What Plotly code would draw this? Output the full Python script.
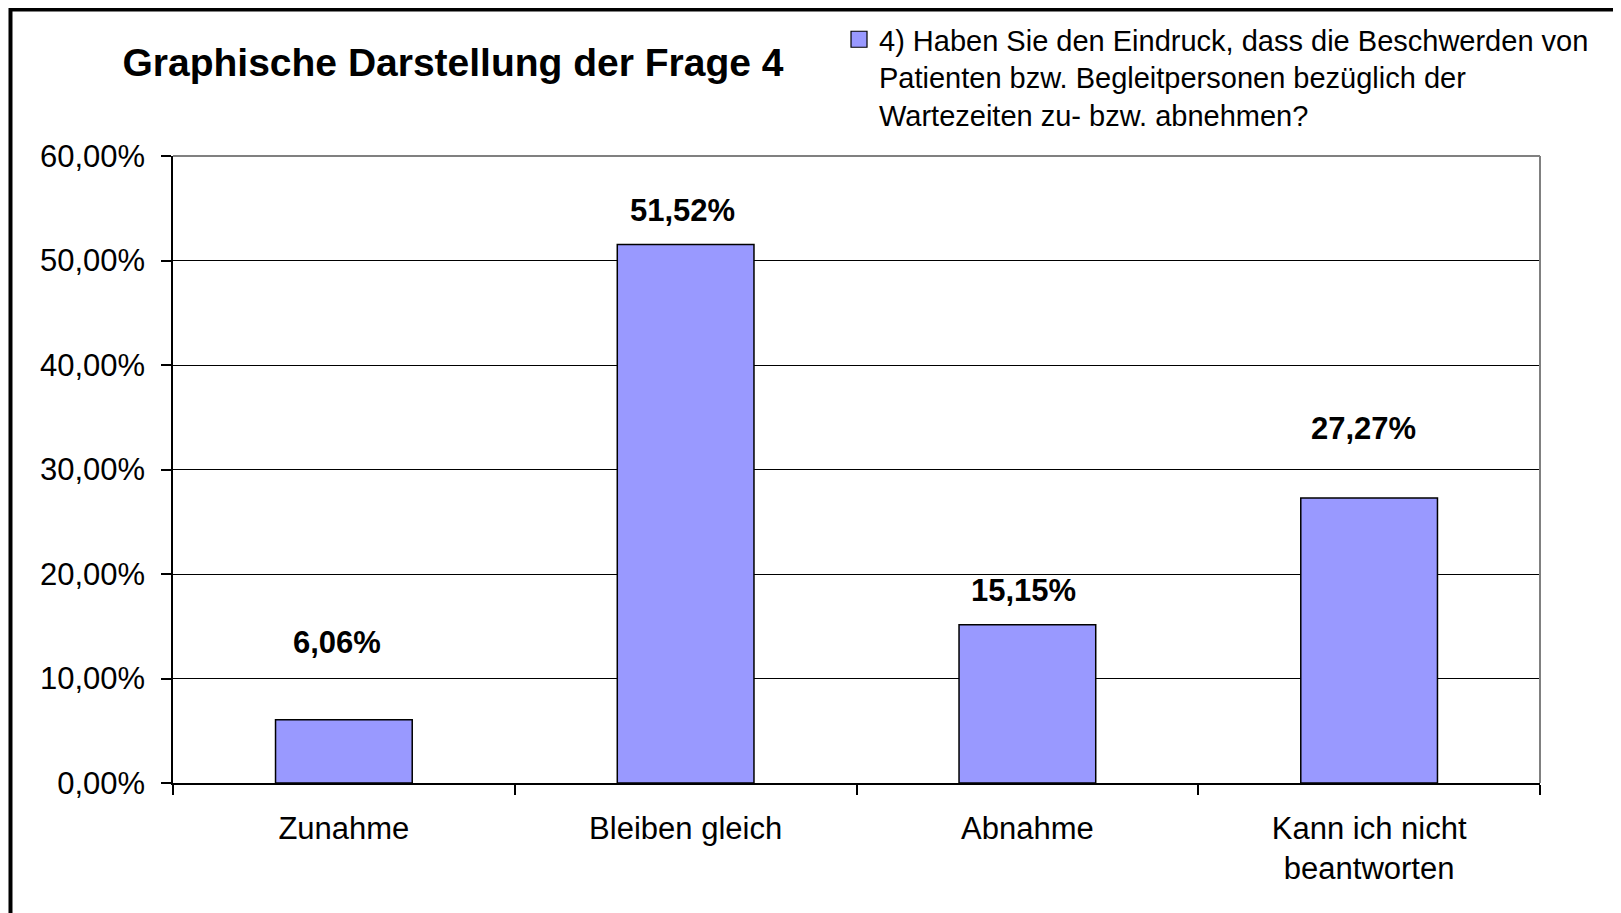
import plotly.graph_objects as go

categories = ["Zunahme", "Bleiben gleich", "Abnahme", "Kann ich nicht<br>beantworten"]
values = [0.0606, 0.5152, 0.1515, 0.2727]
value_labels = ["6,06%", "51,52%", "15,15%", "27,27%"]
series_name = ("4) Haben Sie den Eindruck, dass die Beschwerden von<br>"
               "Patienten bzw. Begleitpersonen bezüglich der<br>"
               "Wartezeiten zu- bzw. abnehmen?")
title_text = "Graphische Darstellung der Frage 4"

# label placement styling (pixel offsets above bar tops)
label_yshift = [77, 34, 34, 70]
label_xshift = [-7, -3, -4, -6]

FONT = "Arial, 'Liberation Sans', sans-serif"
BAR_COLOR = "#9999FF"
OFF = 8  # page body margin
W, H = 1621 - OFF, 913 - OFF
L, R, T, B = 172.6, 1540.4, 156.0, 782.6  # page coordinates of plot area

fig = go.Figure()
fig.add_trace(go.Bar(
    x=categories, y=values, name=series_name,
    marker=dict(color=BAR_COLOR, line=dict(color="black", width=1.5)),
    width=0.4, showlegend=False, legendgroup="s",
))
# legend entry (larger square symbol, like the original legend key)
fig.add_trace(go.Scatter(
    x=[None], y=[None], mode="markers", name=series_name, legendgroup="s",
    marker=dict(symbol="square", size=16, color=BAR_COLOR,
                line=dict(color="black", width=1.2)),
    showlegend=True, hoverinfo="skip",
))

for c, v, t, dy, dx in zip(categories, values, value_labels, label_yshift, label_xshift):
    fig.add_annotation(x=c, y=v, text=t, showarrow=False, yanchor="middle",
                       yshift=dy, xshift=dx,
                       font=dict(family=FONT, size=31, color="black", weight="bold"))

pw, ph = R - L, B - T
def px(x):
    return (x - L) / pw
def py(y):
    return (B - y) / ph

# top and right plot border (gray)
fig.add_shape(type="line", xref="paper", yref="paper", x0=0, x1=1, y0=1, y1=1,
              line=dict(color="#808080", width=2))
fig.add_shape(type="line", xref="paper", yref="paper", x0=1, x1=1, y0=0, y1=1,
              line=dict(color="#808080", width=2))
# outer chart border (black)
fig.add_shape(type="rect", xref="paper", yref="paper",
              x0=px(10), x1=px(1621), y0=py(9.5), y1=py(930),
              line=dict(color="black", width=4))

fig.update_layout(
    width=W, height=H,
    margin=dict(l=L - OFF, r=OFF + W - R, t=T - OFF, b=OFF + H - B, pad=0,
                autoexpand=False),
    paper_bgcolor="white", plot_bgcolor="white",
    separators=",.",
    font=dict(family=FONT, size=31, color="black"),
    title=dict(text=title_text, x=(453 - OFF) / W, xanchor="center",
               y=1 - (62 - OFF) / H, yanchor="middle",
               font=dict(family=FONT, size=39, color="black", weight="bold")),
    showlegend=True,
    legend=dict(x=px(839), xanchor="left", y=py(14), yanchor="top",
                font=dict(family=FONT, size=29, color="black"),
                valign="top", bgcolor="rgba(0,0,0,0)", tracegroupgap=0),
    bargap=0.6,
)
fig.update_xaxes(
    type="category", showline=True, linecolor="black", linewidth=1.5,
    ticks="outside", tickson="boundaries", ticklen=10, tickcolor="black", tickwidth=1.5,
    showgrid=False, tickfont=dict(family=FONT, size=31, color="black"),
    ticklabelstandoff=17, automargin=False,
)
fig.update_yaxes(
    range=[0, 0.6], dtick=0.1, tickformat=".2%",
    showline=True, linecolor="black", linewidth=1.5,
    ticks="outside", ticklen=10, tickcolor="black", tickwidth=1.5,
    showgrid=True, gridcolor="black", gridwidth=1, zeroline=False,
    tickfont=dict(family=FONT, size=31, color="black"),
    ticklabelstandoff=10, automargin=False,
)

fig.write_html("out.html")
